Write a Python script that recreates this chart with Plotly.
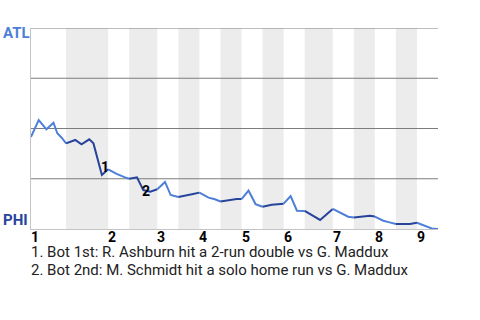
import plotly.graph_objects as go

# ---- data ----
# x: plays (plate appearances) from the start of the game; y: ATL win probability (%)
play_x = [0, 1.1, 2.2, 3.2, 3.75, 4.4, 5.0,
          6.3, 7.2, 8.3, 8.9, 10.1, 11.0,
          12.2, 13.4, 14.0,
          15.1, 16.0, 17.0, 18.0,
          19.1, 19.9, 21.0,
          22.2, 23.1, 24.0,
          25.3, 26.2, 27.0,
          28.2, 29.3, 30.0,
          31.0, 32.0, 33.0,
          34.3, 36.0,
          37.0, 37.9, 39.0,
          41.2, 43.0,
          44.3, 45.2, 46.0,
          47.3, 48.3, 49.0,
          50.2, 51.1, 52.0,
          54.0, 55.0,
          56.1, 57.1, 58.0]
atl_wp = [45.8, 54.2, 49.6, 52.9, 47.6, 45.3, 42.6,
          44.3, 42.1, 44.6, 42.6, 26.9, 29.7,
          27.4, 25.7, 25.0,
          25.7, 19.4, 18.6, 19.8,
          23.4, 16.9, 15.9,
          16.6, 17.4, 18.1,
          15.6, 14.8, 13.7,
          14.4, 14.9, 14.9,
          19.1, 12.4, 11.1,
          12.1, 12.6,
          16.4, 9.1, 9.0,
          4.5, 10.0,
          7.5, 6.1, 5.7,
          6.1, 6.6, 6.2,
          4.1, 3.3, 2.5,
          2.5, 3.1,
          1.6, 0.3, 0.0]

# start of each half inning (top 1st ... top 9th) and end of game
half_starts = [0, 5, 11, 14, 18, 21, 24, 27, 30, 33, 36, 39, 43, 46, 49, 52, 55, 58]
inning_labels = ["1", "2", "3", "4", "5", "6", "7", "8", "9"]

# key events
event_labels = ["1", "2"]
event_x = [10.1, 16.0]
event_y = [26.9, 19.4]
event_notes = ["1. Bot 1st: R. Ashburn hit a 2-run double vs G. Maddux",
               "2. Bot 2nd: M. Schmidt hit a solo home run vs G. Maddux"]

teams = ["ATL", "PHI"]
grid_levels = [25, 50, 75, 100]

# ---- styling ----
LIGHT = "#4d7fd9"
DARK = "#27449c"
FONT = "Roboto"
GRID = "#7c7c7c"

fig = go.Figure()

x_lo, x_hi = half_starts[0], half_starts[-1]

# shaded bottom-half bands
shapes = []
for i in range(1, len(half_starts) - 1, 2):
    shapes.append(dict(type="rect", xref="x", yref="y",
                       x0=half_starts[i], x1=half_starts[i + 1], y0=0, y1=100,
                       fillcolor="#ececec", line=dict(width=0), layer="below"))
# horizontal grid lines, drawn above the bands
for g in grid_levels:
    shapes.append(dict(type="line", xref="x", yref="y", x0=x_lo, x1=x_hi, y0=g, y1=g,
                       line=dict(color=GRID, width=1), layer="below"))

# line segments coloured by half inning
eps = 1e-9
for i in range(len(half_starts) - 1):
    s, e = half_starts[i], half_starts[i + 1]
    xs = [x for x in play_x if s - eps <= x <= e + eps]
    ys = [y for x, y in zip(play_x, atl_wp) if s - eps <= x <= e + eps]
    fig.add_trace(go.Scatter(x=xs, y=ys, mode="lines",
                             line=dict(color=LIGHT if i % 2 == 0 else DARK, width=2),
                             hoverinfo="skip", showlegend=False))

annotations = []
# inning tick labels (left-aligned at the start of each inning)
for k, lab in enumerate(inning_labels):
    annotations.append(dict(x=half_starts[2 * k], y=0, xref="x", yref="paper",
                            xanchor="left", yanchor="top", yshift=0, xshift=-1,
                            height=13, borderpad=0,
                            text=lab, showarrow=False,
                            font=dict(family=FONT, size=14, color="#000000", weight="bold")))
# team labels
annotations.append(dict(x=-0.073, y=0.973, xref="paper", yref="paper",
                        xanchor="left", yanchor="middle", text=teams[0], showarrow=False,
                        font=dict(family=FONT, size=15, color=LIGHT, weight="bold")))
annotations.append(dict(x=-0.073, y=0.047, xref="paper", yref="paper",
                        xanchor="left", yanchor="middle", text=teams[1], showarrow=False,
                        font=dict(family=FONT, size=15, color=DARK, weight="bold")))
# event markers
for lab, ex, ey, dx, dy in zip(event_labels, event_x, event_y, [3, 3], [8, -1]):
    annotations.append(dict(x=ex, y=ey, xref="x", yref="y", text=lab, showarrow=False,
                            xshift=dx, yshift=dy,
                            font=dict(family=FONT, size=14, color="#000000", weight="bold")))
# event notes below the chart
for j, note in enumerate(event_notes):
    annotations.append(dict(x=0, y=0, xref="paper", yref="paper", xanchor="left",
                            yanchor="middle", xshift=-1, yshift=-23 - 18 * j,
                            height=14, borderpad=0,
                            text=note, showarrow=False,
                            font=dict(family=FONT, size=15, color="#222222")))

fig.update_layout(
    width=480, height=320,
    margin=dict(l=31, r=42, t=28, b=91, pad=0),
    paper_bgcolor="white", plot_bgcolor="white",
    shapes=shapes, annotations=annotations,
    xaxis=dict(range=[x_lo, x_hi], showgrid=False, zeroline=False,
               showticklabels=False, ticks="", showline=True, linecolor="#c4c4c4",
               linewidth=1, fixedrange=True),
    yaxis=dict(range=[0, 100], showgrid=False, zeroline=False, showticklabels=False,
               ticks="", showline=True, linecolor="#c4c4c4", linewidth=1, fixedrange=True),
    showlegend=False,
)

fig.write_html("out.html")
